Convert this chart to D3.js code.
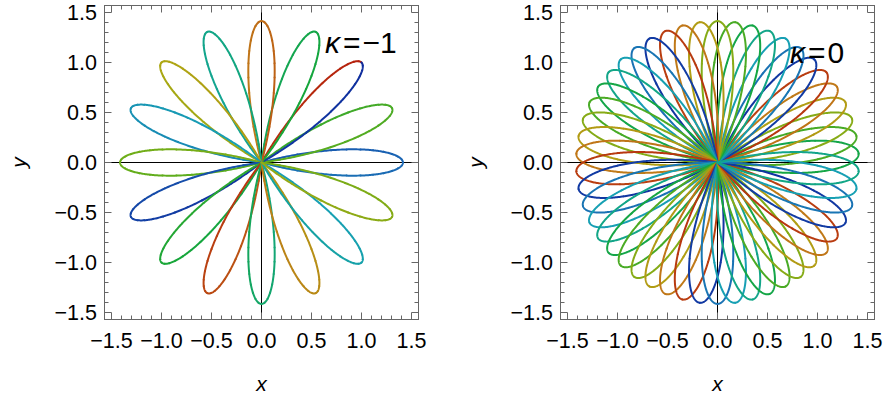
<!DOCTYPE html>
<html>
<head>
<meta charset="utf-8">
<script src="https://cdn.jsdelivr.net/npm/d3@7"></script>
<style>
  html, body { margin: 0; padding: 0; background: #fff; }
  svg { display: block; font-family: "Liberation Sans", Arial, sans-serif; }
</style>
</head>
<body>
<svg id="chart" width="886" height="397"></svg>
<script>
// Axis ticks shared by both panels
const tickValues = [-1.5, -1, -0.5, 0, 0.5, 1, 1.5];
const tickLabels = ["\u22121.5", "\u22121.0", "\u22120.5", "0.0", "0.5", "1.0", "1.5"];
const minorTickValues = [-1.4,-1.3,-1.2,-1.1,-0.9,-0.8,-0.7,-0.6,-0.4,-0.3,-0.2,-0.1,
                         0.1,0.2,0.3,0.4,0.6,0.7,0.8,0.9,1.1,1.2,1.3,1.4];

// κ = -1 : petal tip directions (deg), tip radius, colour position along the gradient
const leftKappa = "\u22121";
const leftPetalAngles = [0, 22.5, 45, 67.5, 90, 112.5, 135, 157.5,
                         180, 202.5, 225, 247.5, 270, 292.5, 315, 337.5];
const leftPetalTone   = [0.12, 0.55, 0.0, 0.45, 0.87, 0.35, 0.72, 0.22,
                         0.60, 0.05, 0.48, 0.93, 0.40, 0.80, 0.27, 0.65];
const leftPetalLength = 1.414;

// κ = 0 : fifty wider petals
const rightKappa = "0";
const rightPetalAngles = [
  3.6, 10.8, 18.0, 25.2, 32.4, 39.6, 46.8, 54.0, 61.2, 68.4,
  75.6, 82.8, 90.0, 97.2, 104.4, 111.6, 118.8, 126.0, 133.2, 140.4,
  147.6, 154.8, 162.0, 169.2, 176.4, 183.6, 190.8, 198.0, 205.2, 212.4,
  219.6, 226.8, 234.0, 241.2, 248.4, 255.6, 262.8, 270.0, 277.2, 284.4,
  291.6, 298.8, 306.0, 313.2, 320.4, 327.6, 334.8, 342.0, 349.2, 356.4];
const rightPetalTone = [
  0.45, 0.55, 0.65, 0.75, 0.85, 0.95, 0.03, 0.15, 0.25, 0.35,
  0.45, 0.55, 0.65, 0.75, 0.85, 0.95, 0.03, 0.15, 0.25, 0.35,
  0.45, 0.55, 0.65, 0.75, 0.85, 0.95, 0.03, 0.15, 0.25, 0.35,
  0.45, 0.55, 0.65, 0.75, 0.85, 0.95, 0.03, 0.15, 0.25, 0.35,
  0.45, 0.55, 0.65, 0.75, 0.85, 0.95, 0.03, 0.15, 0.25, 0.35];
const rightPetalLength = 1.414;

// Dark rainbow gradient stops
const toneStops  = [0, 0.12, 0.25, 0.36, 0.47, 0.6, 0.72, 0.85, 1];
const toneColors = ["#0e2a9c", "#1a66b4", "#17a0b4", "#12a684", "#15a63a",
                    "#6aae18", "#ada713", "#c07818", "#b51e0c"];

const svg = d3.select("#chart");
const tone = d3.scaleLinear().domain(toneStops).range(toneColors).interpolate(d3.interpolateRgb);

const panels = [
  { left: 104.5, right: 418.5, kappa: leftKappa, titleX: 325, titleY: 53,
    angles: leftPetalAngles, tones: leftPetalTone, length: leftPetalLength,
    span: 30, toneSpread: 0.0625, segments: 24, yLabelX: 20 },
  { left: 560.5, right: 874.5, kappa: rightKappa, titleX: 790, titleY: 63,
    angles: rightPetalAngles, tones: rightPetalTone, length: rightPetalLength,
    span: 36, toneSpread: 0.02, segments: 4, yLabelX: 477 }
];
const plotTop = 5.5, plotBottom = 319.5, lim = 1.57;
const frameColor = "#666666";

// Points of one rose petal: from the origin out along the counter-clockwise edge,
// round the tip, and back along the clockwise edge.
function petalPoints(angleDeg, length, spanDeg, n) {
  const pts = [];
  const a0 = angleDeg * Math.PI / 180, half = spanDeg * Math.PI / 360;
  for (let i = 0; i <= n; i++) {
    const phi = half - (2 * half) * i / n;
    const r = length * Math.cos(Math.PI / 2 * phi / half);
    pts.push([r * Math.cos(a0 + phi), r * Math.sin(a0 + phi)]);
  }
  return pts;
}

const crisp = v => Math.round(v - 0.5) + 0.5;

panels.forEach(p => {
  const x = d3.scaleLinear().domain([-lim, lim]).range([p.left, p.right]);
  const y = d3.scaleLinear().domain([-lim, lim]).range([plotBottom, plotTop]);
  const g = svg.append("g");

  // axes through the origin
  g.append("line").attr("x1", p.left).attr("x2", p.right)
    .attr("y1", crisp(y(0))).attr("y2", crisp(y(0)))
    .attr("stroke", "#000").attr("stroke-width", 1);
  g.append("line").attr("x1", crisp(x(0))).attr("x2", crisp(x(0)))
    .attr("y1", plotTop).attr("y2", plotBottom)
    .attr("stroke", "#000").attr("stroke-width", 1);

  // petals, each split into short runs so the colour can drift along it
  const line = d3.line().x(d => x(d[0])).y(d => y(d[1]));
  const runs = [];
  p.angles.forEach((ang, i) => {
    const pts = petalPoints(ang, p.length, p.span, 240);
    const per = 240 / p.segments;
    for (let s = 0; s < p.segments; s++) {
      let t = p.tones[i] + p.toneSpread * ((s + 0.5) / p.segments - 0.5);
      t = ((t % 1) + 1) % 1;
      runs.push({ pts: pts.slice(s * per, (s + 1) * per + 1), color: tone(t) });
    }
  });
  g.append("g").selectAll("path").data(runs).join("path")
    .attr("d", d => line(d.pts))
    .attr("fill", "none")
    .attr("stroke", d => d.color)
    .attr("stroke-width", 2)
    .attr("stroke-linecap", "round")
    .attr("stroke-linejoin", "round");

  // frame with inward ticks on all four sides
  const f = svg.append("g").attr("stroke", frameColor).attr("stroke-width", 1);
  f.append("rect").attr("x", p.left).attr("y", plotTop)
    .attr("width", p.right - p.left).attr("height", plotBottom - plotTop).attr("fill", "none");
  const tickSets = [[tickValues, 7], [minorTickValues, 4]];
  tickSets.forEach(([vals, len]) => {
    vals.forEach(v => {
      const xv = crisp(x(v)), yv = crisp(y(v));
      f.append("line").attr("x1", xv).attr("x2", xv).attr("y1", plotBottom).attr("y2", plotBottom - len);
      f.append("line").attr("x1", xv).attr("x2", xv).attr("y1", plotTop).attr("y2", plotTop + len);
      f.append("line").attr("y1", yv).attr("y2", yv).attr("x1", p.left).attr("x2", p.left + len);
      f.append("line").attr("y1", yv).attr("y2", yv).attr("x1", p.right).attr("x2", p.right - len);
    });
  });

  // tick labels
  g.append("g").selectAll("text").data(tickValues).join("text")
    .attr("x", d => x(d)).attr("y", 348)
    .attr("text-anchor", "middle").attr("font-size", 21.5).attr("fill", "#000")
    .text((d, i) => tickLabels[i]);
  g.append("g").selectAll("text").data(tickValues).join("text")
    .attr("x", p.left - 7.5).attr("y", d => y(d) + 7.5)
    .attr("text-anchor", "end").attr("font-size", 21.5).attr("fill", "#000")
    .text((d, i) => tickLabels[i]);

  // axis titles
  g.append("text").attr("x", x(0)).attr("y", 391)
    .attr("text-anchor", "middle").attr("font-size", 21).attr("font-style", "italic")
    .text("x");
  g.append("text").attr("transform", `translate(${p.yLabelX + 6},${y(0)}) rotate(-90)`)
    .attr("text-anchor", "middle").attr("font-size", 21).attr("font-style", "italic")
    .text("y");

  // curvature label: italic kappa, spaced equals sign, value
  const t = g.append("text").attr("x", p.titleX).attr("y", p.titleY)
    .attr("font-size", 30).attr("fill", "#000");
  t.append("tspan").attr("font-style", "italic").text("\u03BA");
  t.append("tspan").attr("dx", 3).text("=");
  t.append("tspan").attr("dx", 2).text(p.kappa);
});
</script>
</body>
</html>
